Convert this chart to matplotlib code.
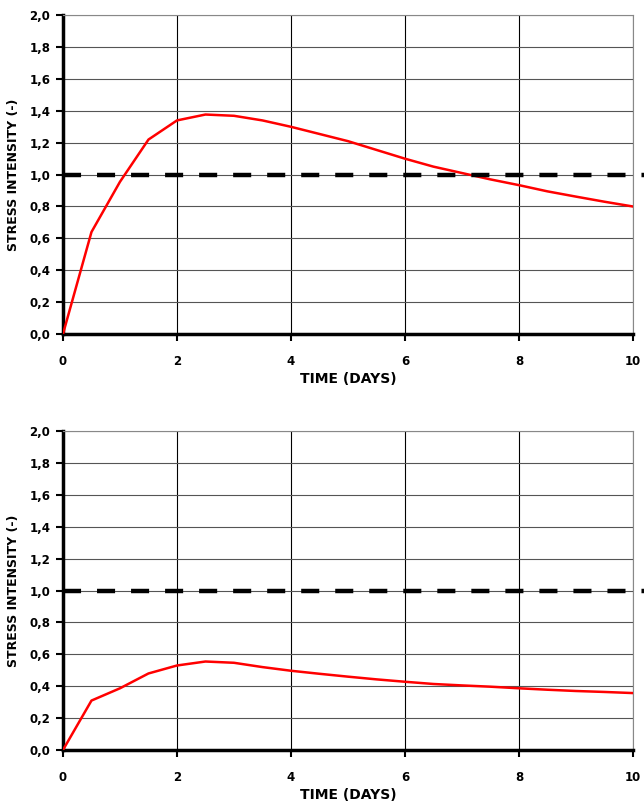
import numpy as np
import matplotlib.pyplot as plt
from matplotlib.ticker import FuncFormatter

plt.rcParams['font.family'] = ['DejaVu Sans']
plt.rcParams['font.weight'] = 'bold'
plt.rcParams['lines.scale_dashes'] = False

time_days = [0, 0.5, 1, 1.5, 2, 2.5, 3, 3.5, 4, 4.5, 5, 5.5, 6, 6.5, 7, 7.5, 8, 8.5, 9, 9.5, 10]
stress_top = [0, 0.64, 0.955, 1.22, 1.34, 1.377, 1.369, 1.34, 1.30, 1.255, 1.21, 1.155,
              1.10, 1.05, 1.01, 0.97, 0.934, 0.895, 0.862, 0.83, 0.80]
stress_bottom = [0, 0.31, 0.387, 0.48, 0.53, 0.555, 0.547, 0.52, 0.497, 0.478, 0.46, 0.443,
                 0.428, 0.414, 0.405, 0.397, 0.387, 0.378, 0.37, 0.364, 0.357]
threshold = 1.0

fig = plt.figure(figsize=(6.44, 8.01), dpi=100)
ax_top = fig.add_axes([0.0978, 0.583, 0.885, 0.398])
ax_bot = fig.add_axes([0.0978, 0.0637, 0.885, 0.398])

comma = FuncFormatter(lambda v, p: ('%.1f' % v).replace('.', ','))

for ax, stress in [(ax_top, stress_top), (ax_bot, stress_bottom)]:
    ax.set_xlim(0, 10)
    ax.set_ylim(0, 2.0)
    ax.set_xticks(np.arange(0, 11, 2))
    ax.set_yticks(np.arange(0, 2.01, 0.2))
    ax.yaxis.set_major_formatter(comma)
    ax.xaxis.grid(True, color='black', linewidth=0.8)
    ax.yaxis.grid(True, color='#555555', linewidth=0.8)
    ax.set_axisbelow(True)
    ax.plot(time_days, stress, color='#ff0000', linewidth=1.8, zorder=3)
    ax.plot([0, 10.2], [threshold, threshold], color='black', linewidth=3.2,
            dashes=(13, 11.5), clip_on=False, zorder=4)
    for s in ['left', 'bottom']:
        ax.spines[s].set_linewidth(2.5)
        ax.spines[s].set_color('black')
    for s in ['top', 'right']:
        ax.spines[s].set_linewidth(0.8)
        ax.spines[s].set_color('#888888')
    ax.tick_params(direction='out', length=5, width=1.5, labelsize=8.5)
    ax.tick_params(axis='x', pad=10)
    ax.tick_params(axis='y', pad=4)
    ax.set_xlabel('TIME (DAYS)', fontsize=10, fontweight='bold')
    ax.set_ylabel('STRESS INTENSITY (-)', fontsize=9, fontweight='bold')
    ax.xaxis.set_label_coords(0.5, -0.118)
    ax.yaxis.set_label_coords(-0.076, 0.5)

plt.savefig('out.png', dpi=100)
